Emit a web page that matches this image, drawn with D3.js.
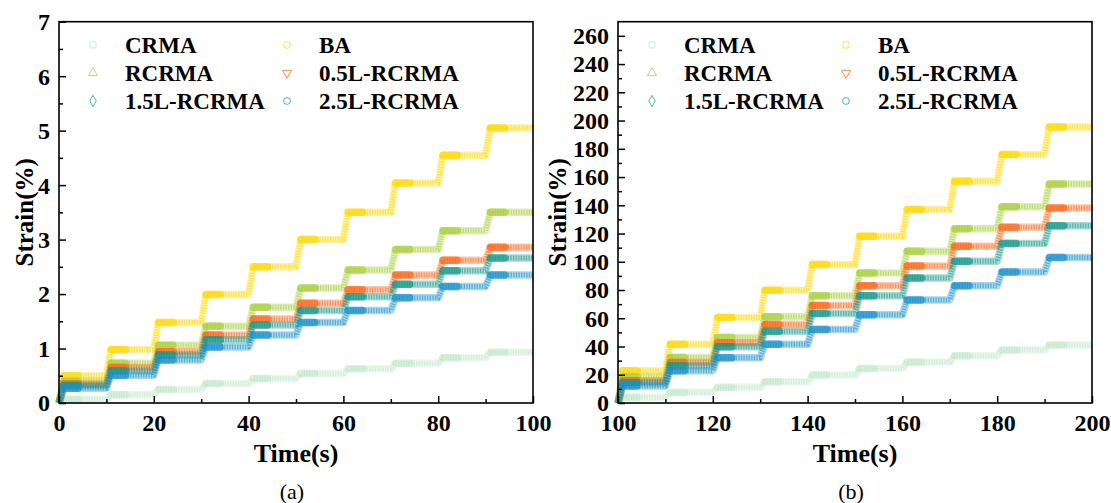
<!DOCTYPE html>
<html>
<head>
<meta charset="utf-8">
<script src="https://cdn.jsdelivr.net/npm/d3@7"></script>
<style>
  body { margin: 0; background: #fff; }
  text { font-family: "Liberation Serif", "Times New Roman", serif; }
</style>
</head>
<body>
<script>
// series names, colours and legend symbols
const seriesNames = ["CRMA", "BA", "RCRMA", "0.5L-RCRMA", "1.5L-RCRMA", "2.5L-RCRMA"];
const seriesColors = ["#9fdcab", "#ffd800", "#a8cf3a", "#ff6517", "#14998a", "#1690cc"];
const seriesSymbols = [d3.symbolSquare, d3.symbolCircle, d3.symbolTriangle, "down", d3.symbolDiamond, d3.symbolCircle];

// load steps start every 10 s
const stepTimesA = [0, 10, 20, 30, 40, 50, 60, 70, 80, 90];
const stepTimesB = [100, 110, 120, 130, 140, 150, 160, 170, 180, 190];
const rampTime = 1;

// strain level reached in each step, panel (a)
const crmaA  = [0.07, 0.15, 0.25, 0.36, 0.45, 0.54, 0.63, 0.73, 0.83, 0.93];
const baA    = [0.50, 0.98, 1.48, 1.99, 2.50, 3.00, 3.50, 4.04, 4.55, 5.05];
const rcrmaA = [0.40, 0.73, 1.06, 1.41, 1.76, 2.11, 2.44, 2.82, 3.16, 3.50];
const l05A   = [0.35, 0.65, 0.94, 1.25, 1.54, 1.83, 2.08, 2.35, 2.62, 2.86];
const l15A   = [0.32, 0.59, 0.88, 1.16, 1.43, 1.70, 1.95, 2.18, 2.43, 2.66];
const l25A   = [0.27, 0.51, 0.79, 1.03, 1.25, 1.48, 1.70, 1.93, 2.14, 2.35];

// panel (b)
const crmaB  = [4.0, 7.5, 11.1, 15.0, 19.8, 24.5, 29.0, 33.5, 37.5, 41.0];
const baB    = [22.8, 41.6, 60.5, 79.8, 98.0, 118.0, 137.0, 157.0, 176.0, 195.5];
const rcrmaB = [18.6, 32.2, 46.4, 61.0, 76.0, 92.0, 107.5, 123.3, 139.0, 155.0];
const l05B   = [15.8, 28.7, 42.6, 55.5, 69.0, 83.0, 97.0, 111.0, 124.5, 138.0];
const l15B   = [14.3, 26.4, 39.8, 50.8, 63.3, 76.0, 88.5, 100.4, 113.0, 125.5];
const l25B   = [12.0, 22.8, 32.0, 41.6, 52.0, 62.5, 73.0, 83.0, 92.7, 103.0];

const xTicksA = [0, 20, 40, 60, 80, 100];
const xTicksB = [100, 120, 140, 160, 180, 200];
const yTicksA = [0, 1, 2, 3, 4, 5, 6, 7];
const yTicksB = [0, 20, 40, 60, 80, 100, 120, 140, 160, 180, 200, 220, 240, 260];

const W = 1111, H = 503;
const svg = d3.select("body").append("svg").attr("width", W).attr("height", H);

const plotTop = 21.7, plotBottom = 403, plotW = 474;

function drawPanel(opt) {
  const x = d3.scaleLinear().domain(opt.xDomain).range([opt.left, opt.left + plotW]);
  const y = d3.scaleLinear().domain(opt.yDomain).range([plotBottom, plotTop]);
  const g = svg.append("g");

  // curves
  const line = d3.line().x(d => x(d[0])).y(d => y(d[1]));
  opt.series.forEach((levels, i) => {
    const t0 = opt.stepTimes[0];
    const pts = [[t0, 0]];
    let prev = 0;
    opt.stepTimes.forEach((t, k) => {
      if (k > 0) pts.push([t, prev]);
      pts.push([t + rampTime, levels[k]]);
      prev = levels[k];
    });
    pts.push([opt.xDomain[1], prev]);
    const c = seriesColors[i];
    const faint = i === 0;
    const sg = g.append("g");
    sg.append("path").attr("d", line(pts)).attr("fill", "none")
      .attr("stroke", c).attr("stroke-width", 7.5)
      .attr("stroke-linejoin", "round").attr("opacity", faint ? 0.22 : 0.36);
    sg.append("path").attr("d", line(pts)).attr("fill", "none")
      .attr("stroke", c).attr("stroke-width", 5)
      .attr("stroke-dasharray", "1.3,1.3").attr("opacity", faint ? 0.3 : 0.55);
    // denser colour at the start of every hold
    opt.stepTimes.forEach((t, k) => {
      sg.append("line")
        .attr("x1", x(t + rampTime)).attr("x2", x(t + rampTime + 3))
        .attr("y1", y(levels[k])).attr("y2", y(levels[k]))
        .attr("stroke", c).attr("stroke-width", 7.5).attr("stroke-linecap", "round")
        .attr("opacity", faint ? 0.25 : 0.7);
    });
  });

  // axes with inward ticks
  const fontCss = "font-family:'Liberation Serif',serif;font-weight:bold;font-size:24px";
  const xAxis = g.append("g").attr("transform", `translate(0,${plotBottom})`)
    .call(d3.axisBottom(x).tickValues(opt.xTicks).tickSize(-7).tickPadding(12).tickFormat(d3.format("d")));
  const xMinor = g.append("g").attr("transform", `translate(0,${plotBottom})`)
    .call(d3.axisBottom(x).tickValues(opt.xMinor).tickSize(-4).tickFormat(""));
  const yAxis = g.append("g").attr("transform", `translate(${opt.left},0)`)
    .call(d3.axisLeft(y).tickValues(opt.yTicks).tickSize(-7).tickPadding(9).tickFormat(d3.format("d")));
  const yMinor = g.append("g").attr("transform", `translate(${opt.left},0)`)
    .call(d3.axisLeft(y).tickValues(opt.yMinor).tickSize(-4).tickFormat(""));
  [xAxis, xMinor, yAxis, yMinor].forEach(a => {
    a.select(".domain").remove();
    a.selectAll(".tick line").attr("stroke", "#000").attr("stroke-width", 1.5);
    a.selectAll("text").attr("style", fontCss).attr("fill", "#000");
  });
  xAxis.selectAll("text").attr("dy", "0.66em");
  yAxis.selectAll("text").attr("dy", "0.33em");

  g.append("rect").attr("x", opt.left).attr("y", plotTop)
    .attr("width", plotW).attr("height", plotBottom - plotTop)
    .attr("fill", "none").attr("stroke", "#000").attr("stroke-width", 1.6);

  // axis titles
  g.append("text").attr("x", opt.left + plotW / 2).attr("y", 462)
    .attr("text-anchor", "middle").attr("font-weight", "bold").attr("font-size", 26)
    .text("Time(s)");
  g.append("text").attr("transform", `translate(${opt.yTitleX},${(plotTop + plotBottom) / 2}) rotate(-90)`)
    .attr("text-anchor", "middle").attr("dy", "0.35em").attr("font-weight", "bold").attr("font-size", 25)
    .text("Strain(%)");
  g.append("text").attr("x", opt.left + plotW / 2 - 4).attr("y", 499)
    .attr("text-anchor", "middle").attr("font-size", 22)
    .text(opt.label);

  // legend
  const legendCols = [opt.left + 34, opt.left + 228];
  const legendRows = [45, 73, 101];
  seriesNames.forEach((name, s) => {
    const col = s % 2, row = Math.floor(s / 2);
    const lx = legendCols[col], ly = legendRows[row];
    const sym = seriesSymbols[s];
    g.append("path")
      .attr("d", d3.symbol().type(sym === "down" ? d3.symbolTriangle : sym).size(36)())
      .attr("transform", `translate(${lx},${ly})` + (sym === "down" ? " rotate(180)" : ""))
      .attr("fill", "none").attr("stroke", seriesColors[s]).attr("stroke-width", 1)
      .attr("opacity", s === 0 ? 0.5 : 0.75);
    g.append("text").attr("x", lx + 32).attr("y", ly).attr("dy", "0.35em")
      .attr("font-weight", "bold").attr("font-size", 23)
      .text(name);
  });
}

drawPanel({
  left: 59, xDomain: [0, 100], yDomain: [0, 7],
  xTicks: xTicksA, xMinor: [10, 30, 50, 70, 90],
  yTicks: yTicksA, yMinor: [0.5, 1.5, 2.5, 3.5, 4.5, 5.5, 6.5],
  stepTimes: stepTimesA,
  series: [crmaA, baA, rcrmaA, l05A, l15A, l25A],
  yTitleX: 24, label: "(a)"
});

drawPanel({
  left: 618, xDomain: [100, 200], yDomain: [0, 270],
  xTicks: xTicksB, xMinor: [110, 130, 150, 170, 190],
  yTicks: yTicksB, yMinor: [10, 30, 50, 70, 90, 110, 130, 150, 170, 190, 210, 230, 250],
  stepTimes: stepTimesB,
  series: [crmaB, baB, rcrmaB, l05B, l15B, l25B],
  yTitleX: 557, label: "(b)"
});
</script>
</body>
</html>
